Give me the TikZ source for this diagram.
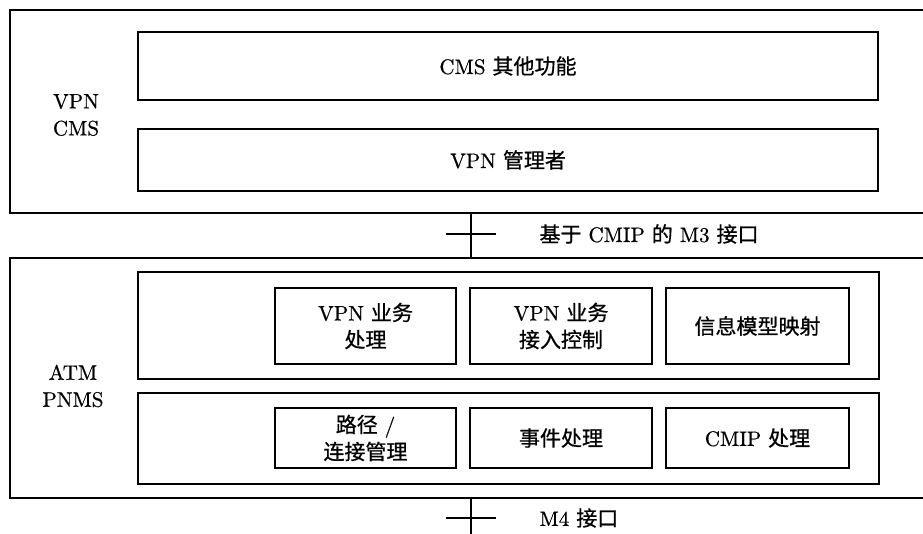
\documentclass[tikz,border=0pt]{standalone}
\usepackage{fontspec}
\setmainfont{lmroman10-regular.otf}[FakeBold=0.6]
\newfontfamily\cjk{Noto Sans CJK SC}[FakeBold=0.8]
\newcommand\zh[1]{{\cjk #1}}
\begin{document}
\begin{tikzpicture}[x=1pt,y=1pt,
  box/.style={draw,line width=1.4pt,inner sep=0pt,align=center},
  lbl/.style={align=center,font=\fontsize{21}{27}\selectfont},
  link/.style={line width=1.4pt}]
\useasboundingbox (0,0) rectangle (923,-534);
\clip (0,0) rectangle (923,-534);
% top system
\node[box, minimum width=950pt, minimum height=203pt] (cmsouter) at (485,-111.5) {};
\node[lbl] (cmslabel) at (76,-115) {VPN\\CMS};
\node[box,lbl, minimum width=740pt, minimum height=68pt] (other) at (508,-66) {CMS \zh{其他功能}};
\node[box,lbl, minimum width=740pt, minimum height=62pt] (mgr) at (508,-160) {VPN \zh{管理者}};
% bottom system
\node[box, minimum width=950pt, minimum height=240pt] (pnms) at (485,-378) {};
\node[lbl] (pnmslabel) at (73,-386) {ATM\\PNMS};
\node[box, minimum width=741pt, minimum height=107pt] (upper) at (508.5,-325.5) {};
\node[box, minimum width=741pt, minimum height=91pt] (lower) at (508.5,-438.5) {};
\node[box,lbl, minimum width=181pt, minimum height=76pt] (svc) at (365.5,-326) {VPN \zh{业务}\\\zh{处理}};
\node[box,lbl, minimum width=182pt, minimum height=76pt] (acc) at (561,-326) {VPN \zh{业务}\\\zh{接入控制}};
\node[box,lbl, minimum width=183pt, minimum height=76pt] (map) at (757.5,-326) {\zh{信息模型映射}};
\node[box,lbl, minimum width=181pt, minimum height=60pt] (path) at (365.5,-438) {\zh{路径} /\\\zh{连接管理}};
\node[box,lbl, minimum width=182pt, minimum height=60pt] (evt) at (561,-438) {\zh{事件处理}};
\node[box,lbl, minimum width=183pt, minimum height=60pt] (cmip) at (757.5,-438) {CMIP \zh{处理}};
% interfaces
\coordinate (mx) at (471,-234);
\coordinate (t1a) at (446,-234);
\coordinate (t1b) at (496,-234);
\draw[link] (cmsouter.south -| mx) -- (pnms.north -| mx);
\draw[link] (t1a) -- (t1b);
\node[lbl,anchor=west] (m3) at (536,-234) {\zh{基于} CMIP \zh{的} M3 \zh{接口}};
\coordinate (bend) at (471,-545);
\coordinate (t2a) at (446,-518);
\coordinate (t2b) at (496,-518);
\draw[link] (pnms.south -| mx) -- (bend);
\draw[link] (t2a) -- (t2b);
\node[lbl,anchor=west] (m4) at (536,-518) {M4 \zh{接口}};
\end{tikzpicture}
\end{document}
